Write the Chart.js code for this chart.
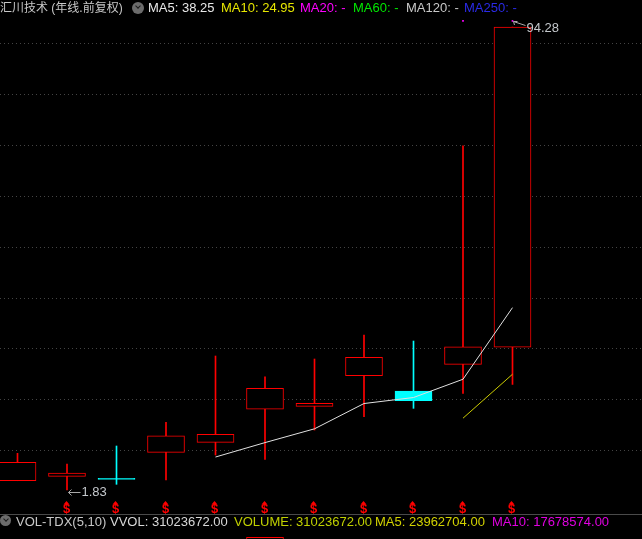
<!DOCTYPE html>
<html>
<head>
<meta charset="utf-8">
<script src="https://cdn.jsdelivr.net/npm/chart.js@4"></script>
<style>
body { margin: 0; background: #000; overflow: hidden; width: 642px; height: 539px; position: relative;
  font-family: "Liberation Sans", "Noto Sans CJK SC", sans-serif; font-size: 13px; }
#c { position: absolute; left: 0; top: 0; }
.t { position: absolute; white-space: nowrap; line-height: 16px; }
.ico { position: absolute; width: 12px; height: 12px; border-radius: 50%; background: #6c6c6c; }
.ico:after { content: ""; position: absolute; left: 3.5px; top: 2px; width: 3px; height: 3px;
  border-right: 1.5px solid #1c1c1c; border-bottom: 1.5px solid #1c1c1c; transform: rotate(45deg); }
.sep { position: absolute; left: 0; top: 514px; width: 642px; height: 1px; background: #4a4a4a; }
</style>
</head>
<body>
<canvas id="c" width="642" height="539"></canvas>

<div class="t" style="left:0;top:0;color:#c8c8c8;font-size:12px">汇川技术 (年线.前复权)</div>
<div class="ico" style="left:132px;top:2px"></div>
<div class="t" style="left:148px;top:0;color:#e8e8e8">MA5: 38.25</div>
<div class="t" style="left:221px;top:0;color:#e6e600">MA10: 24.95</div>
<div class="t" style="left:300px;top:0;color:#ff00ff">MA20: -</div>
<div class="t" style="left:353px;top:0;color:#00e600">MA60: -</div>
<div class="t" style="left:406px;top:0;color:#c8c8c8">MA120: -</div>
<div class="t" style="left:464px;top:0;color:#2a2ae6">MA250: -</div>

<div class="sep"></div>
<div class="ico" style="left:0;top:515px;width:11px;height:11px"></div>
<div class="t" style="left:16px;top:514px;color:#c8c8c8">VOL-TDX(5,10)</div>
<div class="t" style="left:110px;top:514px;color:#d8d8d8">VVOL: 31023672.00</div>
<div class="t" style="left:234px;top:514px;color:#c0d000">VOLUME: 31023672.00</div>
<div class="t" style="left:375px;top:514px;color:#d2d200">MA5: 23962704.00</div>
<div class="t" style="left:492px;top:514px;color:#e000e0">MA10: 17678574.00</div>

<script>
// 汇川技术 年线 2010-2020 (前复权)
const years = ['2010', '2011', '2012', '2013', '2014', '2015', '2016', '2017', '2018', '2019', '2020'];
const openP  = [3.69, 4.57, 3.98, 9.36, 11.35, 18.00, 18.54, 24.65, 21.60, 26.93, 30.38];
const closeP = [7.36, 5.22, 3.97, 12.67, 12.95, 22.14, 19.14, 28.33, 19.66, 30.44, 94.28];
const highP  = [9.16, 7.02, 10.62, 15.35, 28.59, 24.45, 27.99, 32.78, 31.58, 70.58, 94.28];
const lowP   = [3.69, 1.83, 2.97, 3.83, 8.82, 7.96, 13.81, 16.47, 18.14, 21.14, 22.94];
const ma5    = [null, null, null, null, 8.42, 11.30, 14.05, 19.10, 20.30, 23.95, 38.25];
const ma10   = [null, null, null, null, null, null, null, null, null, 16.17, 24.95];
const volume = [6200000, 3150000, 4420000, 6850000, 9050000, 33500000, 15200000, 21500000, 23100000, 28990000, 31023672];
const divIdx = [1, 2, 3, 4, 5, 6, 7, 8, 9, 10];   // $ 分红标记
const flagIdx = [9, 10];                          // 紫色小点
const flagVal = [95.5, 95.5];
const gridVals = [9.7, 19.85, 30.0, 40.15, 50.3, 60.45, 70.6, 80.75, 90.9];

const UP = '#ff0000';
const DOWN = '#00ffff';
const isUp = years.map((_, i) => closeP[i] >= openP[i]);

const pts = arr => arr.map((v, i) => ({ x: i, y: v })).filter(p => p.y !== null);

const marks = {
  id: 'marks',
  afterDatasetsDraw(chart) {
    const { ctx, scales: { x, y } } = chart;
    ctx.save();

    // $ markers under the candles
    ctx.fillStyle = UP;
    ctx.textAlign = 'center';
    ctx.textBaseline = 'middle';
    ctx.font = 'bold 13px "Liberation Sans"';
    divIdx.forEach(i => {
      const px = Math.round(x.getPixelForValue(i)) - 1;
      ctx.beginPath();
      ctx.moveTo(px + 0.5, 501);
      ctx.lineTo(px - 2.5, 504.5);
      ctx.lineTo(px + 3.5, 504.5);
      ctx.closePath();
      ctx.fill();
      ctx.fillText('$', px + 0.5, 509.5);
    });

    ctx.font = '13px "Liberation Sans"';
    ctx.textAlign = 'left';
    ctx.strokeStyle = '#a8a8a8';
    ctx.lineWidth = 1;

    // lowest low
    const lo = Math.min(...lowP);
    const li = lowP.indexOf(lo);
    const lx = Math.round(x.getPixelForValue(li)) + 1.5;
    const ly = Math.round(y.getPixelForValue(lo)) + 2.5;
    ctx.beginPath();
    ctx.moveTo(lx, ly); ctx.lineTo(lx + 12, ly);
    ctx.moveTo(lx, ly); ctx.lineTo(lx + 3, ly - 3);
    ctx.moveTo(lx, ly); ctx.lineTo(lx + 3, ly + 3);
    ctx.stroke();
    ctx.fillStyle = '#c4c8cc';
    ctx.fillText(lo.toFixed(2), lx + 13, ly);

    // highest high
    const hi = Math.max(...highP);
    const hiI = highP.indexOf(hi);
    const hx = Math.round(x.getPixelForValue(hiI)) + 1.5;
    const hy = Math.round(y.getPixelForValue(hi));
    ctx.beginPath();
    ctx.moveTo(hx, hy - 5.5); ctx.lineTo(hx + 12, hy - 1.5);
    ctx.moveTo(hx, hy - 5.5); ctx.lineTo(hx + 4, hy - 5.5);
    ctx.moveTo(hx, hy - 5.5); ctx.lineTo(hx + 1, hy - 2);
    ctx.stroke();
    ctx.fillText(hi.toFixed(2), hx + 13, hy + 1);

    ctx.restore();
  }
};

new Chart(document.getElementById('c'), {
  type: 'bar',
  data: {
    datasets: [
      {
        type: 'line', label: 'MA5', data: pts(ma5),
        borderColor: '#e0e0e0', borderWidth: 1, pointRadius: 0, pointHoverRadius: 0, tension: 0
      },
      {
        type: 'line', label: 'MA10', data: pts(ma10),
        borderColor: '#cccc00', borderWidth: 1, pointRadius: 0, pointHoverRadius: 0, tension: 0
      },
      {
        type: 'line', label: 'flag', showLine: false,
        data: flagIdx.map((i, k) => ({ x: i, y: flagVal[k] })),
        pointStyle: 'rect', pointRadius: 1.2, pointHoverRadius: 0, pointBorderWidth: 0,
        pointBackgroundColor: '#ff00ff'
      },
      {
        label: 'body',
        data: years.map((_, i) => ({ x: i, y: [openP[i], closeP[i]] })),
        backgroundColor: isUp.map(u => u ? '#000' : DOWN),
        borderColor: isUp.map(u => u ? UP : DOWN),
        borderWidth: 1, borderSkipped: false, minBarLength: 1,
        grouped: false, categoryPercentage: 1, barPercentage: 1, maxBarThickness: 37
      },
      {
        label: 'wick',
        data: years.map((_, i) => ({ x: i, y: [lowP[i], highP[i]] })),
        backgroundColor: isUp.map(u => u ? UP : DOWN),
        borderWidth: 0,
        grouped: false, categoryPercentage: 1, barPercentage: 1, maxBarThickness: 1
      },
      {
        label: 'VOL', yAxisID: 'yv',
        data: years.map((_, i) => ({ x: i, y: volume[i] })),
        backgroundColor: isUp.map(u => u ? '#000' : DOWN),
        borderColor: isUp.map(u => u ? UP : DOWN),
        borderWidth: 1, borderSkipped: false,
        grouped: false, categoryPercentage: 1, barPercentage: 1, maxBarThickness: 37
      }
    ]
  },
  options: {
    responsive: false,
    devicePixelRatio: 1,
    animation: false,
    layout: { padding: 0, autoPadding: false },
    plugins: { legend: { display: false }, tooltip: { enabled: false } },
    scales: {
      x: { type: 'linear', min: -0.3535, max: 12.6162, offset: false, display: false },
      y: {
        type: 'linear', min: -7.95, max: 99.68,
        afterBuildTicks: s => { s.ticks = gridVals.map(v => ({ value: v })); },
        afterFit: s => { s.width = 0; },
        ticks: { display: false },
        grid: { color: '#444', lineWidth: 1, drawTicks: false },
        border: { display: false, dash: [1, 3] }
      },
      yv: { type: 'linear', min: 32950000, max: 208770000, display: false }
    }
  },
  plugins: [marks]
});
</script>
</body>
</html>
